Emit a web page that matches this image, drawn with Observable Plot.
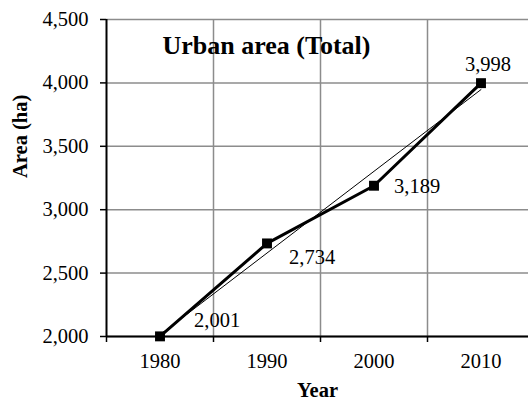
<!DOCTYPE html>
<html>
<head>
<meta charset="utf-8">
<script src="https://cdn.jsdelivr.net/npm/d3@7"></script>
<script src="https://cdn.jsdelivr.net/npm/@observablehq/plot@0.6"></script>
<style>
  html, body { margin: 0; padding: 0; background: #fff; }
</style>
</head>
<body>
<div id="chart"></div>
<script>
const years = [1980, 1990, 2000, 2010];
const area = [2001, 2734, 3189, 3998];
const yTicks = [2000, 2500, 3000, 3500, 4000, 4500];
const xBoundaries = [1975, 1985, 1995, 2005, 2015];
const title = "Urban area (Total)";
const xLabel = "Year";
const yLabel = "Area (ha)";

const data = years.map((year, i) => ({year, area: area[i], i}));
const fmt = d3.format(",");

// label placement (style only)
const place = [
  {dx: 34, dy: -16, anchor: "start"},
  {dx: 22, dy: 14, anchor: "start"},
  {dx: 20, dy: 1, anchor: "start"},
  {dx: 7, dy: -19, anchor: "middle"}
];

const font = "'Liberation Serif', 'Times New Roman', serif";

const marks = [
  Plot.gridY(yTicks, {stroke: "#8c8c8c", strokeOpacity: 1, strokeWidth: 1.5}),
  Plot.gridX(xBoundaries.slice(1), {stroke: "#8c8c8c", strokeOpacity: 1, strokeWidth: 1.5}),
  Plot.axisY(yTicks, {tickSize: 6, tickPadding: 12, tickFormat: fmt, fontSize: 20.5, label: null, strokeWidth: 1.5}),
  Plot.axisX(xBoundaries.slice(0, 4), {tickSize: 6, tickFormat: () => "", label: null, strokeWidth: 1.5}),
  Plot.axisX(years, {tickSize: 0, tickPadding: 17, tickFormat: d => String(d), fontSize: 20.5, label: null}),
  Plot.ruleX([1975], {stroke: "black", strokeWidth: 2}),
  Plot.ruleY([2000], {stroke: "black", strokeWidth: 2}),
  Plot.linearRegressionY(data, {x: "year", y: "area", stroke: "black", strokeWidth: 1, ci: 0}),
  Plot.line(data, {x: "year", y: "area", stroke: "black", strokeWidth: 3}),
  Plot.dot(data, {x: "year", y: "area", symbol: "square", r: 5.6, fill: "black", stroke: "none"}),
  ...place.map((p, k) => Plot.text(data.filter(d => d.i === k), {
    x: "year", y: "area", text: d => fmt(d.area), dx: p.dx, dy: p.dy,
    textAnchor: p.anchor, fontSize: 20.5, fill: "black"
  })),
  Plot.text([title], {frameAnchor: "top-left", dx: 56, dy: 26, lineAnchor: "middle", textAnchor: "start", fontSize: 26, fontWeight: "bold", fill: "black"}),
  Plot.text([xLabel], {frameAnchor: "bottom", dy: 54, lineAnchor: "middle", fontSize: 20.5, fontWeight: "bold", fill: "black"}),
  Plot.text([yLabel], {frameAnchor: "left", dx: -86, rotate: -90, fontSize: 20.5, fontWeight: "bold", fill: "black"})
];

const chart = Plot.plot({
  width: 528,
  height: 400,
  marginTop: 19,
  marginBottom: 64,
  marginLeft: 106,
  marginRight: 0,
  x: {type: "linear", domain: [1975, 2015], range: [106, 534]},
  y: {domain: [2000, 4500]},
  style: {fontFamily: font, fontSize: "20px", color: "black", background: "white", overflow: "visible"},
  marks
});
document.getElementById("chart").appendChild(chart);
</script>
</body>
</html>
